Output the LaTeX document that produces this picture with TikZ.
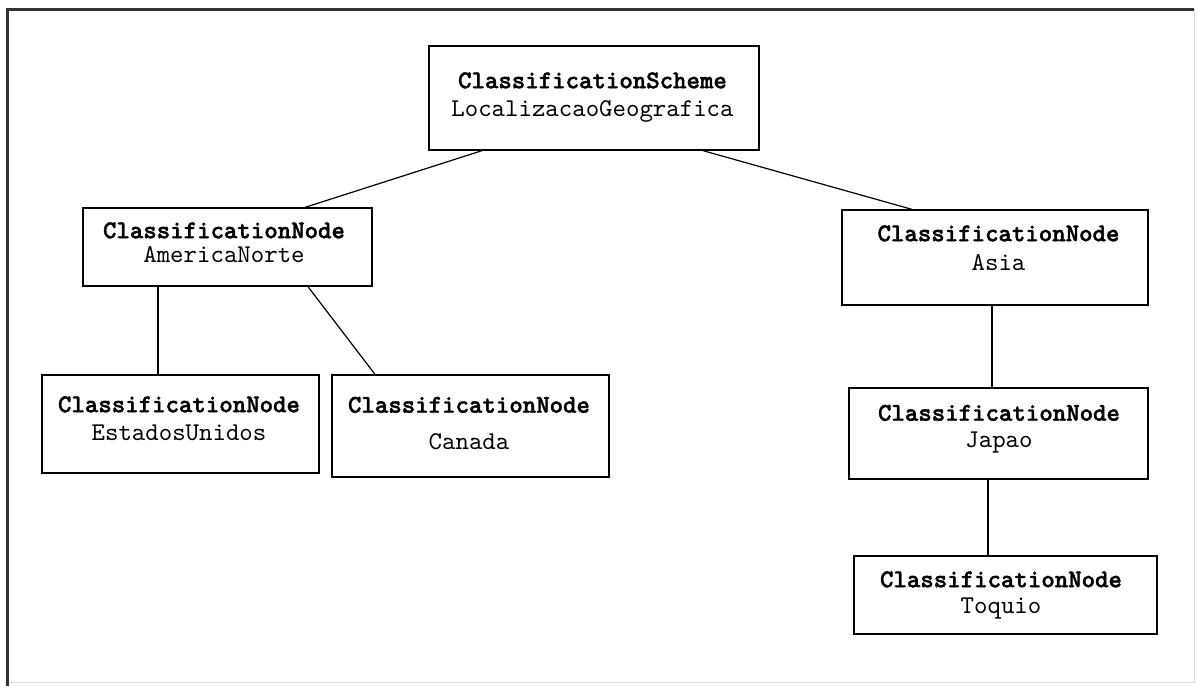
\documentclass[tikz,border=0pt]{standalone}
\usepackage{fontspec}
\setmonofont{lmmono10-regular.otf}[
  BoldFont=lmmonolt10-bold.otf,
  BoldFeatures={FakeBold=1.6}]
\usetikzlibrary{calc}

% Two-line label: bold class name over the instance name.
% #1 horizontal shift, #2 vertical lift, #3 extra line gap, #4 class, #5 name
\newcommand{\clslabel}[5]{%
  \fontsize{25.6}{26}\selectfont\ttfamily
  \kern#1\raisebox{#2}[\height][\depth]{%
    \begin{tabular}{@{}c@{}}\textbf{#4}\\[#3]#5\end{tabular}}\kern-#1}

\tikzset{
  clsbox/.style={draw=black, line width=1.3pt, fill=white, rectangle,
    inner sep=0pt, text=black},
  link/.style={draw=black, line width=1.2pt},
}

\begin{document}
\begin{tikzpicture}[x=1pt,y=-1pt]
  % canvas and frame
  \fill[white] (0,0) rectangle (1198,686);
  \useasboundingbox (0,0) rectangle (1198,686);
  \draw[line width=0.9pt, black!15] (1194.5,9) -- (1194.5,682) -- (8,682);
  \draw[line width=2.4pt, black!80] (7.5,686) -- (7.5,9.5) -- (1194,9.5);

  % classification tree
  \node[clsbox, minimum width=330pt, minimum height=104pt] (scheme) at (594,98)
    {\clslabel{-1.5pt}{1pt}{2pt}{ClassificationScheme}{LocalizacaoGeografica}};
  \node[clsbox, minimum width=289pt, minimum height=78pt] (amnorte) at (227.5,247)
    {\clslabel{-3.5pt}{2pt}{-2pt}{ClassificationNode}{AmericaNorte}};
  \node[clsbox, minimum width=306pt, minimum height=95pt] (asia) at (995,257.5)
    {\clslabel{3.5pt}{7pt}{3pt}{ClassificationNode}{Asia}};
  \node[clsbox, minimum width=277pt, minimum height=98pt] (eua) at (180.5,424)
    {\clslabel{-1.5pt}{3pt}{2pt}{ClassificationNode}{EstadosUnidos}};
  \node[clsbox, minimum width=277pt, minimum height=102pt] (canada) at (470.5,426)
    {\clslabel{-1.5pt}{0pt}{11pt}{ClassificationNode}{Canada}};
  \node[clsbox, minimum width=299pt, minimum height=91pt] (japao) at (998.5,433.5)
    {\clslabel{0.5pt}{4.5pt}{1pt}{ClassificationNode}{Japao}};
  \node[clsbox, minimum width=303pt, minimum height=78pt] (toquio) at (1005.5,595)
    {\clslabel{-4.5pt}{0pt}{0pt}{ClassificationNode}{Toquio}};

  % connectors
  \draw[link] ([xshift=-112pt]scheme.south) -- ([xshift=77.5pt]amnorte.north);
  \draw[link] ([xshift=109pt]scheme.south) -- ([xshift=-83pt]asia.north);
  \draw[link] ([xshift=-69.5pt]amnorte.south) -- ([xshift=-22.5pt]eua.north);
  \draw[link] ([xshift=80.5pt]amnorte.south) -- ([xshift=-95.5pt]canada.north);
  \draw[link] ([xshift=-3pt]asia.south) -- ([xshift=-6.5pt]japao.north);
  \draw[link] ([xshift=-10.5pt]japao.south) -- ([xshift=-17.5pt]toquio.north);
\end{tikzpicture}
\end{document}
